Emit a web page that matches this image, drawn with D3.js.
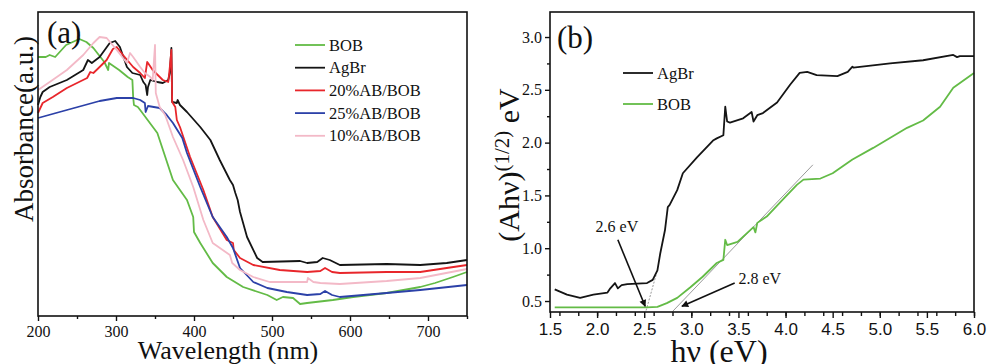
<!DOCTYPE html>
<html>
<head>
<meta charset="utf-8">
<script src="https://cdn.jsdelivr.net/npm/d3@7"></script>
<style>
  html, body { margin: 0; padding: 0; background: #fff; }
  svg { display: block; }
  text { font-family: "Liberation Serif", "Times New Roman", serif; fill: #111; }
</style>
</head>
<body>
<div id="chart"></div>
<script>
// ---------- panel (a): absorbance vs wavelength ----------
const seriesA = ['BOB', 'AgBr', '20%AB/BOB', '25%AB/BOB', '10%AB/BOB'];
const colorsA = ['#63bb46', '#151515', '#e8262b', '#2c41a8', '#f3b9c7'];

const bobA = [[200,2.59],[210,2.59],[215,2.61],[222,2.59],[236,2.71],[253,2.77],[262,2.74],[271,2.68],[281,2.58],[285,2.54],[290,2.46],[291,2.53],[304,2.46],[315,2.39],[321,2.36],[322,2.19],[323,2.11],[328,2.09],[331,2.06],[353,1.83],[373,1.36],[391,1.16],[399,0.99],[400,0.84],[408,0.73],[424,0.53],[442,0.39],[463,0.29],[494,0.21],[506,0.16],[514,0.19],[527,0.18],[536,0.12],[545,0.13],[578,0.16],[604,0.19],[647,0.23],[690,0.29],[709,0.33],[732,0.39],[750,0.44]];
const agbrA = [[200,2.11],[203,2.19],[206,2.24],[215,2.29],[237,2.36],[258,2.46],[264,2.56],[269,2.53],[279,2.59],[292,2.73],[299,2.75],[305,2.69],[314,2.49],[321,2.43],[331,2.41],[335,2.34],[338,2.31],[340,2.21],[341,2.29],[344,2.36],[353,2.34],[360,2.33],[367,2.36],[369,2.43],[371,2.68],[372,2.14],[378,2.13],[379,2.16],[382,2.11],[391,2.04],[408,1.89],[421,1.76],[433,1.56],[446,1.36],[450,1.31],[453,1.23],[456,1.16],[459,1.04],[468,0.79],[481,0.58],[488,0.54],[536,0.55],[545,0.53],[558,0.54],[565,0.58],[574,0.56],[587,0.51],[647,0.52],[690,0.51],[724,0.53],[750,0.56]];
const ab20A = [[200,2.03],[206,2.13],[219,2.19],[237,2.28],[263,2.38],[267,2.44],[271,2.43],[279,2.49],[288,2.56],[296,2.67],[301,2.69],[309,2.61],[322,2.49],[331,2.43],[337,2.38],[340,2.54],[341,2.53],[347,2.46],[360,2.36],[367,2.34],[369,2.49],[371,2.66],[372,2.14],[376,2.09],[378,1.96],[382,1.89],[395,1.59],[412,1.26],[424,0.99],[442,0.76],[450,0.73],[451,0.66],[459,0.58],[476,0.51],[510,0.46],[545,0.44],[562,0.45],[568,0.48],[577,0.44],[587,0.43],[647,0.44],[690,0.44],[724,0.48],[750,0.51]];
const ab25A = [[200,1.98],[237,2.06],[279,2.15],[301,2.18],[322,2.18],[331,2.16],[337,2.13],[338,2.04],[341,2.10],[356,2.08],[365,2.01],[373,1.93],[385,1.78],[391,1.63],[408,1.29],[424,0.99],[442,0.79],[450,0.68],[459,0.48],[476,0.34],[494,0.28],[519,0.24],[545,0.21],[562,0.22],[568,0.25],[577,0.21],[587,0.19],[647,0.23],[690,0.26],[750,0.31]];
const ab10A = [[200,2.26],[215,2.34],[237,2.46],[258,2.61],[271,2.73],[279,2.79],[288,2.78],[301,2.66],[314,2.53],[318,2.63],[322,2.59],[331,2.49],[337,2.43],[344,2.39],[347,2.36],[350,2.71],[351,2.23],[356,2.09],[363,2.01],[373,1.79],[386,1.56],[399,1.29],[412,0.96],[424,0.73],[446,0.61],[449,0.53],[459,0.46],[476,0.39],[497,0.34],[545,0.34],[546,0.38],[553,0.34],[562,0.33],[587,0.32],[647,0.35],[690,0.38],[750,0.47]];
const dataA = [bobA, agbrA, ab20A, ab25A, ab10A];

const xTicksA = [200, 300, 400, 500, 600, 700];
const xMinorA = [250, 350, 450, 550, 650, 750];

// ---------- panel (b): Tauc plot ----------
const seriesB = ['AgBr', 'BOB'];
const colorsB = ['#151515', '#63bb46'];

const agbrB = [[1.55,0.61],[1.68,0.56],[1.82,0.53],[1.96,0.56],[2.11,0.58],[2.14,0.62],[2.19,0.67],[2.22,0.62],[2.26,0.65],[2.32,0.66],[2.53,0.67],[2.59,0.70],[2.64,0.79],[2.67,0.95],[2.72,1.17],[2.75,1.39],[2.77,1.41],[2.85,1.55],[2.91,1.71],[3.06,1.86],[3.23,2.02],[3.27,2.04],[3.34,2.07],[3.36,2.34],[3.38,2.20],[3.41,2.19],[3.55,2.23],[3.64,2.29],[3.66,2.20],[3.70,2.26],[3.76,2.28],[3.91,2.38],[4.05,2.55],[4.15,2.66],[4.23,2.67],[4.33,2.64],[4.55,2.63],[4.66,2.67],[4.71,2.72],[4.72,2.71],[5.11,2.75],[5.46,2.78],[5.78,2.83],[5.82,2.81],[5.85,2.82],[6.0,2.82]];
const bobB = [[1.55,0.44],[2.53,0.44],[2.64,0.445],[2.74,0.48],[2.85,0.53],[2.99,0.63],[3.12,0.73],[3.27,0.86],[3.34,0.89],[3.36,1.08],[3.38,1.03],[3.49,1.06],[3.66,1.20],[3.68,1.15],[3.70,1.24],[3.80,1.30],[3.97,1.46],[4.12,1.60],[4.19,1.65],[4.37,1.66],[4.50,1.71],[4.66,1.81],[4.71,1.84],[4.93,1.95],[5.29,2.14],[5.46,2.21],[5.64,2.34],[5.78,2.52],[6.0,2.66]];
const dataB = [agbrB, bobB];

// tangent (extrapolation) lines and band gap labels
const tangents = [[[2.52,0.41],[2.63,0.76]], [[2.80,0.40],[4.29,1.79]]];
const gapLabels = ['2.6 eV', '2.8 eV'];
const gapText = [[2.21,1.15],[3.50,0.66]];
const gapArrows = [[[2.22,1.08],[2.51,0.45]], [[3.46,0.67],[2.90,0.45]]];

const xTicksB = [1.5, 2.0, 2.5, 3.0, 3.5, 4.0, 4.5, 5.0, 5.5, 6.0];
const yTicksB = [0.5, 1.0, 1.5, 2.0, 2.5, 3.0];

const width = 988, height = 364;
const svg = d3.select('#chart').append('svg')
  .attr('width', width)
  .attr('height', height);

svg.append('defs').append('marker')
  .attr('id', 'arrow')
  .attr('viewBox', '0 0 10 10')
  .attr('refX', 9).attr('refY', 5)
  .attr('markerWidth', 9).attr('markerHeight', 7)
  .attr('markerUnits', 'userSpaceOnUse')
  .attr('orient', 'auto')
  .append('path')
  .attr('d', 'M0,0 L10,5 L0,10 z')
  .attr('fill', '#111');

// ===== panel (a) =====
const a = { left: 38, right: 467, top: 12, bottom: 316 };
const xA = d3.scaleLinear().domain([200, 750]).range([a.left, a.right]);
const yA = d3.scaleLinear().domain([0, 3.04]).range([a.bottom, a.top]);

const gA = svg.append('g');

gA.append('g')
  .attr('transform', `translate(0,${a.bottom})`)
  .call(d3.axisBottom(xA).tickValues(xMinorA).tickSize(3).tickFormat(''))
  .call(g => g.select('.domain').remove());
gA.append('g')
  .attr('transform', `translate(0,${a.bottom})`)
  .call(d3.axisBottom(xA).tickValues(xTicksA).tickSize(5).tickPadding(5).tickFormat(d3.format('d')))
  .call(g => g.select('.domain').remove())
  .call(g => g.selectAll('text')
    .style('font-family', '"Liberation Serif", serif')
    .style('font-size', '16px')
    .attr('fill', '#111'));
gA.selectAll('.tick line').attr('stroke', '#111').attr('stroke-width', 1.4);

const lineA = d3.line().x(d => xA(d[0])).y(d => yA(d[1]));
gA.selectAll('.curveA')
  .data(dataA)
  .enter()
  .append('path')
  .attr('class', 'curveA')
  .attr('d', lineA)
  .attr('fill', 'none')
  .attr('stroke', (d, i) => colorsA[i])
  .attr('stroke-width', 1.8)
  .attr('stroke-linejoin', 'round');

gA.append('rect')
  .attr('x', a.left).attr('y', a.top)
  .attr('width', a.right - a.left).attr('height', a.bottom - a.top)
  .attr('fill', 'none').attr('stroke', '#111').attr('stroke-width', 1.6);

const legA = gA.append('g').attr('transform', 'translate(295,45)');
seriesA.forEach((name, i) => {
  const row = legA.append('g').attr('transform', `translate(0,${i * 22.7})`);
  row.append('line').attr('x1', 0).attr('x2', 30).attr('y1', 0).attr('y2', 0)
    .attr('stroke', colorsA[i]).attr('stroke-width', 1.8);
  row.append('text').attr('x', 34).attr('y', 5.5)
    .style('font-size', '16.5px').text(name);
});

gA.append('text').attr('x', 47).attr('y', 43)
  .style('font-size', '31px').text('(a)');

gA.append('text')
  .attr('transform', 'translate(33,129) rotate(-90)')
  .attr('text-anchor', 'middle')
  .style('font-size', '27px')
  .text('Absorbance(a.u.)');

gA.append('text')
  .attr('x', 228).attr('y', 359)
  .attr('text-anchor', 'middle')
  .style('font-size', '26px')
  .text('Wavelength (nm)');

// ===== panel (b) =====
const b = { left: 550, right: 974, top: 12, bottom: 312 };
const xB = d3.scaleLinear().domain([1.5, 6.0]).range([b.left, b.right]);
const yB = d3.scaleLinear().domain([0.396, 3.237]).range([b.bottom, b.top]);

const gB = svg.append('g');

gB.append('g')
  .attr('transform', `translate(0,${b.bottom})`)
  .call(d3.axisBottom(xB).ticks(18).tickSize(4).tickFormat(''))
  .call(g => g.select('.domain').remove());
gB.append('g')
  .attr('transform', `translate(0,${b.bottom})`)
  .call(d3.axisBottom(xB).tickValues(xTicksB).tickSize(6).tickPadding(5).tickFormat(d3.format('.1f')))
  .call(g => g.select('.domain').remove())
  .call(g => g.selectAll('text')
    .style('font-family', '"Liberation Sans", Arial, sans-serif')
    .style('font-size', '17px')
    .attr('fill', '#111'));
gB.append('g')
  .attr('transform', `translate(${b.left},0)`)
  .call(d3.axisLeft(yB).tickValues(d3.range(0.75, 3.01, 0.5)).tickSize(3).tickFormat(''))
  .call(g => g.select('.domain').remove());
gB.append('g')
  .attr('transform', `translate(${b.left},0)`)
  .call(d3.axisLeft(yB).tickValues(yTicksB).tickSize(5).tickPadding(3).tickFormat(d3.format('.1f')))
  .call(g => g.select('.domain').remove())
  .call(g => g.selectAll('text')
    .style('font-family', '"Liberation Serif", serif')
    .style('font-size', '16px')
    .attr('fill', '#111'));
gB.selectAll('.tick line').attr('stroke', '#111').attr('stroke-width', 1.4);

const lineB = d3.line().x(d => xB(d[0])).y(d => yB(d[1]));

gB.selectAll('.tangent')
  .data(tangents)
  .enter()
  .append('path')
  .attr('class', 'tangent')
  .attr('d', lineB)
  .attr('stroke', '#9a9a9a')
  .attr('stroke-width', 1)
  .attr('stroke-dasharray', (d, i) => i === 0 ? '2,1.5' : null);

gB.selectAll('.curveB')
  .data(dataB)
  .enter()
  .append('path')
  .attr('class', 'curveB')
  .attr('d', lineB)
  .attr('fill', 'none')
  .attr('stroke', (d, i) => colorsB[i])
  .attr('stroke-width', 1.8)
  .attr('stroke-linejoin', 'round');

gB.selectAll('.gapArrow')
  .data(gapArrows)
  .enter()
  .append('path')
  .attr('class', 'gapArrow')
  .attr('d', lineB)
  .attr('stroke', '#111')
  .attr('stroke-width', 1.6)
  .attr('marker-end', 'url(#arrow)');

gB.selectAll('.gapLabel')
  .data(gapLabels)
  .enter()
  .append('text')
  .attr('class', 'gapLabel')
  .attr('x', (d, i) => xB(gapText[i][0]))
  .attr('y', (d, i) => yB(gapText[i][1]))
  .attr('text-anchor', (d, i) => i === 0 ? 'middle' : 'start')
  .style('font-size', '16px')
  .text(d => d);

gB.append('rect')
  .attr('x', b.left).attr('y', b.top)
  .attr('width', b.right - b.left).attr('height', b.bottom - b.top)
  .attr('fill', 'none').attr('stroke', '#111').attr('stroke-width', 1.6);

const legB = gB.append('g').attr('transform', 'translate(623,73)');
seriesB.forEach((name, i) => {
  const row = legB.append('g').attr('transform', `translate(0,${i * 31})`);
  row.append('line').attr('x1', 0).attr('x2', 30).attr('y1', 0).attr('y2', 0)
    .attr('stroke', colorsB[i]).attr('stroke-width', 1.8);
  row.append('text').attr('x', 34).attr('y', 5.5)
    .style('font-size', '16.5px').text(name);
});

gB.append('text').attr('x', 557).attr('y', 48)
  .style('font-size', '31px').text('(b)');

const yTitle = gB.append('text')
  .attr('transform', 'translate(519,165) rotate(-90)')
  .attr('text-anchor', 'middle')
  .style('font-size', '30px');
yTitle.append('tspan').text('(Ahν)');
yTitle.append('tspan').attr('dy', -10).style('font-size', '21px').text('(1/2)');
yTitle.append('tspan').attr('dy', 10).text(' eV');

gB.append('text')
  .attr('x', 719).attr('y', 362)
  .attr('text-anchor', 'middle')
  .style('font-size', '32px')
  .text('hν (eV)');
</script>
</body>
</html>
